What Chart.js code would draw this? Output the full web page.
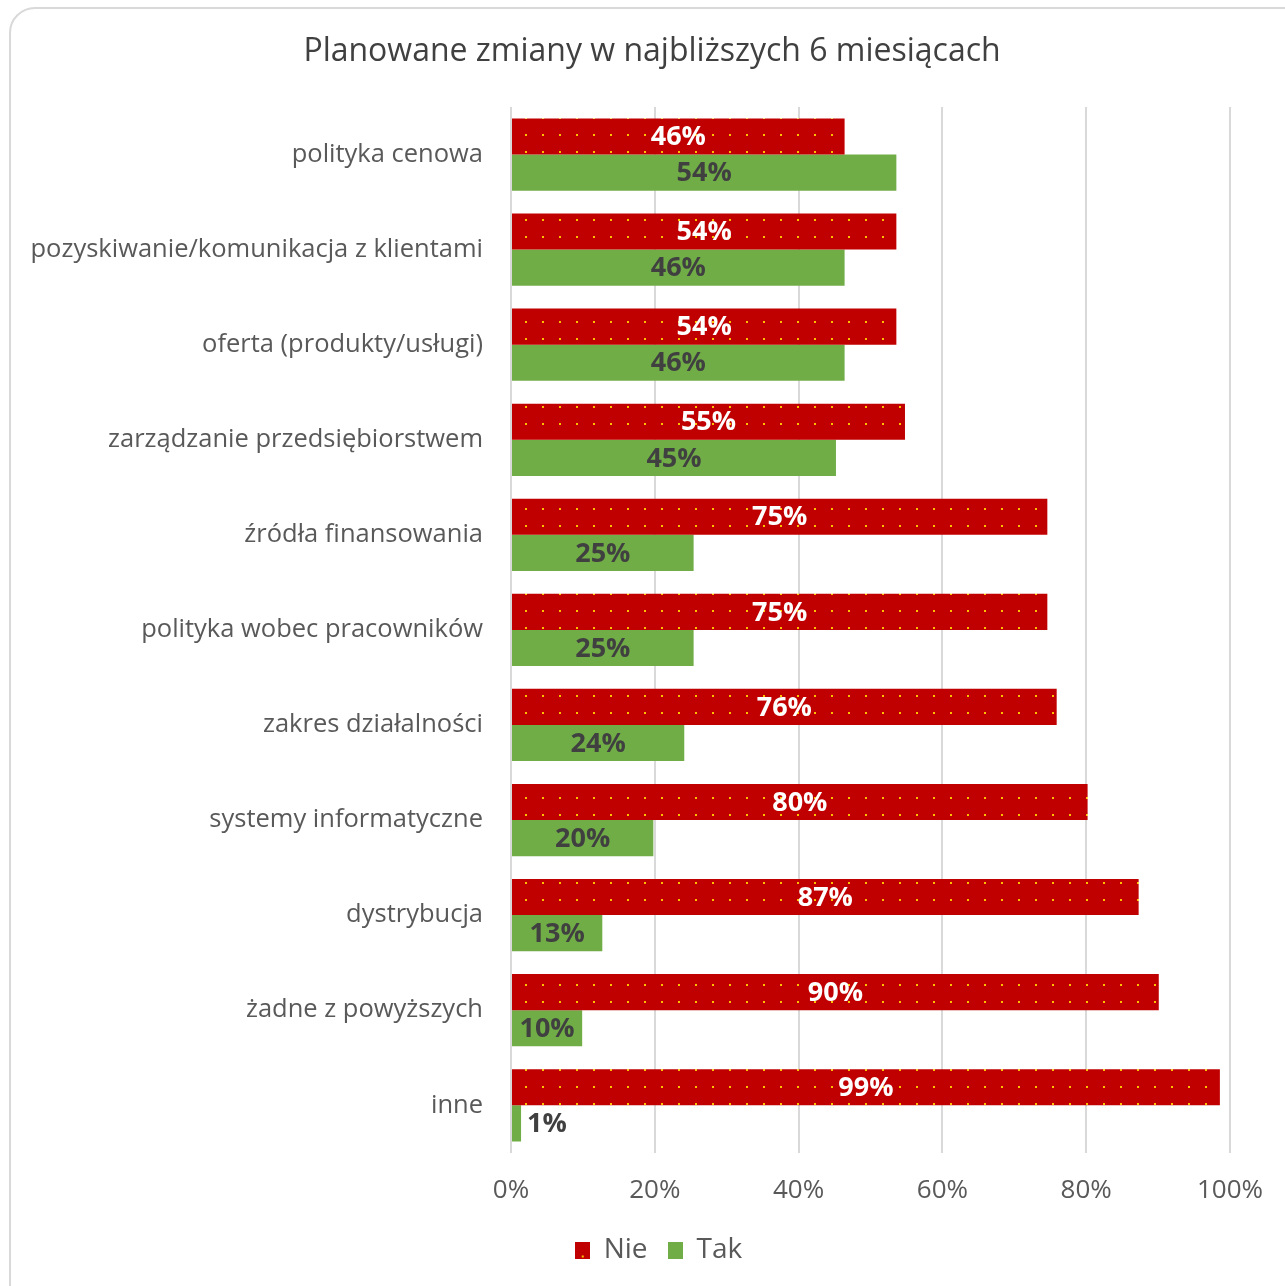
<!DOCTYPE html>
<html lang="pl">
<head>
  <meta charset="UTF-8" />
  <title>Planowane zmiany w najbliższych 6 miesiącach</title>
  <script src="https://cdn.jsdelivr.net/npm/chart.js"></script>
  <style>
    html, body {
      margin: 0;
      padding: 0;
      background: #ffffff;
      overflow: hidden;
    }
    #frame {
      position: absolute;
      left: 9px;
      top: 7px;
      width: 1320px;
      height: 1320px;
      border: 2px solid #d9d9d9;
      border-radius: 26px;
      box-sizing: border-box;
    }
    #wrap {
      position: absolute;
      left: 0;
      top: 0;
      width: 1285px;
      height: 1286px;
    }
  </style>
</head>
<body>
  <div id="frame"></div>
  <div id="wrap">
    <canvas id="chart" width="1285" height="1286"></canvas>
  </div>

  <script>
    const chartTitle = 'Planowane zmiany w najbliższych 6 miesiącach';
    const categories = [
      'polityka cenowa',
      'pozyskiwanie/komunikacja z klientami',
      'oferta (produkty/usługi)',
      'zarządzanie przedsiębiorstwem',
      'źródła finansowania',
      'polityka wobec pracowników',
      'zakres działalności',
      'systemy informatyczne',
      'dystrybucja',
      'żadne z powyższych',
      'inne'
    ];
    const nieValues = [46.4, 53.6, 53.6, 54.8, 74.6, 74.6, 75.9, 80.2, 87.3, 90.1, 98.6];
    const takValues = [53.6, 46.4, 46.4, 45.2, 25.4, 25.4, 24.1, 19.8, 12.7, 9.9, 1.4];
    const xTicks = [0, 20, 40, 60, 80, 100];

    const FONT = '"Open Sans", Lato, sans-serif';
    const RED = '#C00000';
    const GREEN = '#70AD47';
    const DOT = '#FFC000';

    // czerwone tło z żółtymi kropkami
    function dotPattern() {
      const c = document.createElement('canvas');
      c.width = 17; c.height = 17;
      const g = c.getContext('2d');
      g.fillStyle = RED;
      g.fillRect(0, 0, 17, 17);
      g.fillStyle = DOT;
      g.fillRect(15, 15, 2, 2);
      return document.getElementById('chart').getContext('2d').createPattern(c, 'repeat');
    }

    function legendBox(color, dot) {
      const c = document.createElement('canvas');
      c.width = 15; c.height = 17;
      const g = c.getContext('2d');
      g.fillStyle = color;
      g.fillRect(0, 0, 15, 17);
      if (dot) {
        g.fillStyle = DOT;
        g.fillRect(7, 14, 2, 2);
      }
      return c;
    }

    // tytuł rysowany osobno, bo jest przesunięty względem środka płótna
    const titlePlugin = {
      id: 'titlePlugin',
      afterLayout(chart) {
        // legenda też jest przesunięta w prawo
        chart.legend.left += 42;
        chart.legend.right += 42;
      },
      afterDraw(chart) {
        const ctx = chart.ctx;
        ctx.save();
        ctx.font = '32px ' + FONT;
        ctx.fillStyle = '#404040';
        ctx.textAlign = 'center';
        ctx.textBaseline = 'middle';
        ctx.fillText(chartTitle, 652, 52);
        ctx.restore();
      }
    };

    const barLabels = {
      id: 'barLabels',
      afterDatasetsDraw(chart) {
        const ctx = chart.ctx;
        ctx.save();
        ctx.font = 'bold 27px ' + FONT;
        ctx.textBaseline = 'middle';
        chart.data.datasets.forEach((ds, i) => {
          const meta = chart.getDatasetMeta(i);
          meta.data.forEach((bar, j) => {
            const txt = Math.round(ds.data[j]) + '%';
            const w = ctx.measureText(txt).width;
            const len = bar.x - bar.base;
            ctx.fillStyle = i === 0 ? '#ffffff' : '#404040';
            if (len < w + 4) {
              ctx.textAlign = 'left';
              ctx.fillStyle = '#404040';
              ctx.fillText(txt, bar.x + 6, bar.y + 1);
            } else {
              ctx.textAlign = 'center';
              ctx.fillText(txt, (bar.x + bar.base) / 2, bar.y + 1);
            }
          });
        });
        ctx.restore();
      }
    };

    const chart = new Chart(document.getElementById('chart'), {
      type: 'bar',
      data: {
        labels: categories,
        datasets: [
          {
            label: 'Nie',
            data: nieValues,
            backgroundColor: dotPattern(),
            categoryPercentage: 0.76,
            barPercentage: 1.0
          },
          {
            label: 'Tak',
            data: takValues,
            backgroundColor: GREEN,
            categoryPercentage: 0.76,
            barPercentage: 1.0
          }
        ]
      },
      options: {
        indexAxis: 'y',
        responsive: false,
        animation: false,
        layout: { padding: { left: 0, right: 52, top: 107, bottom: 12 } },
        plugins: {
          title: { display: false },
          legend: {
            position: 'bottom',
            labels: {
              color: '#595959',
              font: { family: FONT, size: 28 },
              usePointStyle: true,
              pointStyleWidth: 15,
              padding: 20,
              generateLabels() {
                return [
                  { text: 'Nie', pointStyle: legendBox(RED, true), datasetIndex: 0, fontColor: '#595959' },
                  { text: 'Tak', pointStyle: legendBox(GREEN, false), datasetIndex: 1, fontColor: '#595959' }
                ];
              }
            }
          },
          tooltip: { enabled: false }
        },
        scales: {
          x: {
            min: 0,
            max: 100,
            afterBuildTicks(scale) {
              scale.ticks = xTicks.map(v => ({ value: v }));
            },
            afterFit(scale) { scale.height -= 12; },
            ticks: {
              color: '#595959',
              font: { family: FONT, size: 26 },
              padding: 22,
              callback: v => v + '%'
            },
            grid: { color: '#d9d9d9', lineWidth: 2, drawTicks: false },
            border: { display: false }
          },
          y: {
            afterFit(scale) { scale.width = 511; },
            ticks: {
              color: '#595959',
              font: { family: FONT, size: 25.5 },
              padding: 20
            },
            grid: { display: false },
            border: { display: false }
          }
        }
      },
      plugins: [barLabels, titlePlugin]
    });
  </script>
</body>
</html>
